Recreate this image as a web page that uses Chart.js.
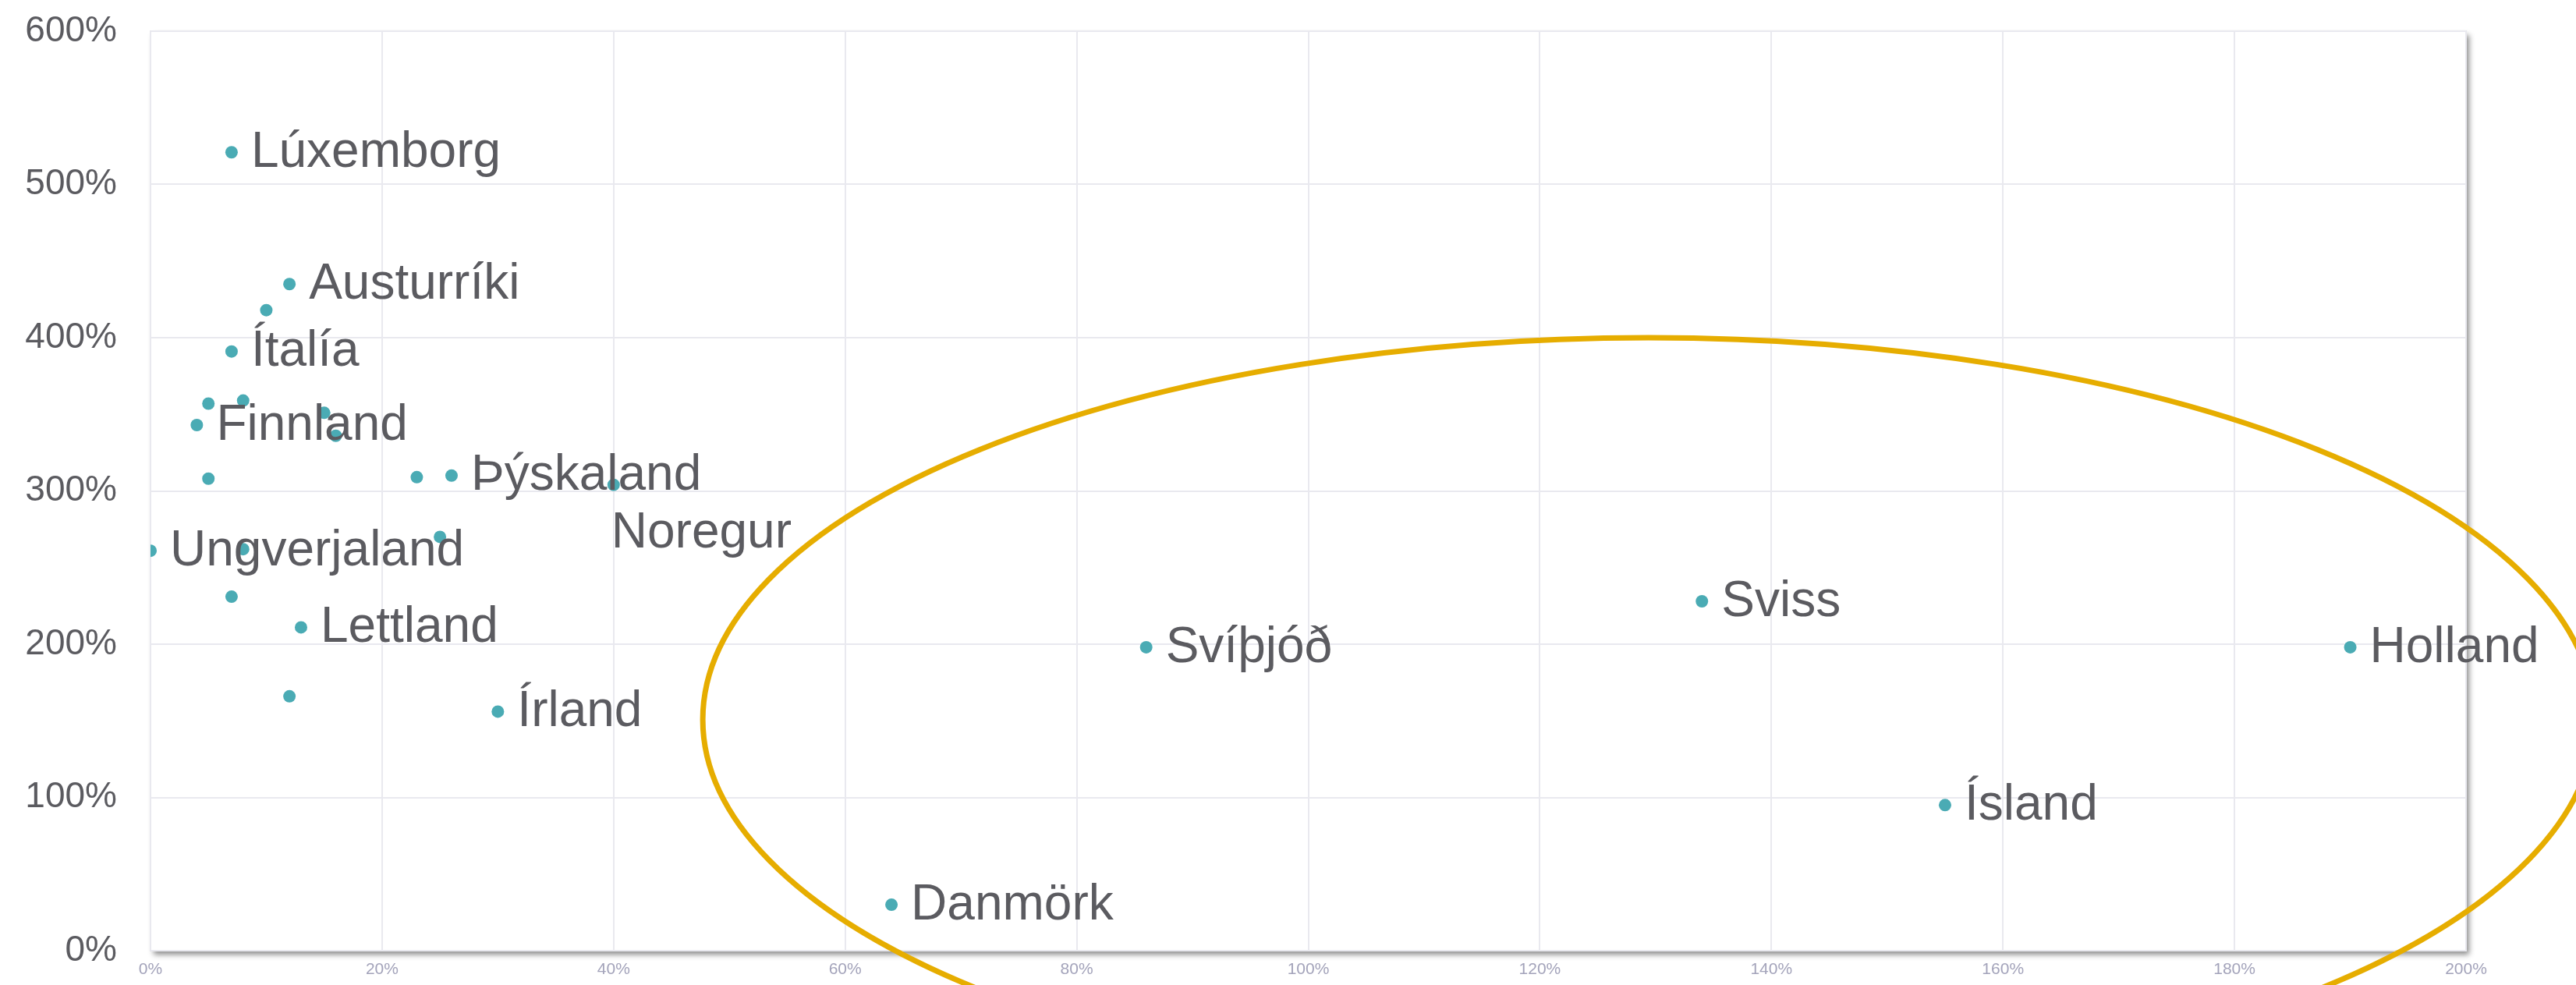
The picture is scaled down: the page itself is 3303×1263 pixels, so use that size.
<!DOCTYPE html>
<html>
<head>
<meta charset="utf-8">
<script src="https://cdn.jsdelivr.net/npm/chart.js@4/dist/chart.umd.min.js"></script>
<style>
  html, body { margin: 0; padding: 0; background: #fff; }
  #wrap { width: 3303px; height: 1263px; position: relative; }
</style>
</head>
<body>
<div id="wrap"><canvas id="chart"></canvas></div>
<script>
// country names (empty = no label)
const names = [
  'Lúxemborg', 'Austurríki', '', 'Ítalía', '', '', 'Finnland', '', '', '',
  '', 'Þýskaland', 'Noregur', '', 'Ungverjaland', '', '', 'Lettland', '', 'Írland',
  'Svíþjóð', 'Sviss', 'Holland', 'Ísland', 'Danmörk'
];
// x values (%)
const xValues = [
  7, 12, 10, 7, 5, 8, 4, 15, 16, 5,
  23, 26, 40, 25, 0, 8, 7, 13, 12, 30,
  86, 134, 190, 155, 64
];
// y values (%)
const yValues = [
  521, 435, 418, 391, 357, 359, 343, 351, 336, 308,
  309, 310, 304, 270, 261, 262, 231, 211, 166, 156,
  198, 228, 198, 95, 30
];
const belowLabels = ['Noregur'];

// highlighted group (ellipse) in data units
const ringCenter = [129.4, 150.8];
const ringRadius = [81.7, 249.2];

const FONT = "'Liberation Sans', Arial, sans-serif";

const framePlugin = {
  id: 'frame',
  beforeDraw(chart) {
    const { ctx, chartArea: a } = chart;
    ctx.save();
    ctx.shadowColor = 'rgba(0,0,0,0.45)';
    ctx.shadowBlur = 7;
    ctx.shadowOffsetX = 4;
    ctx.shadowOffsetY = 5;
    ctx.fillStyle = '#ffffff';
    ctx.fillRect(a.left, a.top, a.right - a.left, a.bottom - a.top);
    ctx.restore();
    ctx.save();
    ctx.strokeStyle = '#e4e4ea';
    ctx.lineWidth = 2;
    ctx.strokeRect(a.left, a.top, a.right - a.left, a.bottom - a.top);
    ctx.restore();
  }
};

const labelPlugin = {
  id: 'pointLabels',
  afterDatasetsDraw(chart) {
    const { ctx } = chart;
    const meta = chart.getDatasetMeta(0);
    ctx.save();
    ctx.font = '64px ' + FONT;
    ctx.fillStyle = '#5b5b60';
    ctx.textBaseline = 'middle';
    ctx.textAlign = 'left';
    meta.data.forEach((pt, i) => {
      const txt = names[i];
      if (!txt) return;
      if (belowLabels.includes(txt)) {
        ctx.fillText(txt, pt.x - 3, pt.y + 63);
      } else {
        ctx.fillText(txt, pt.x + 25, pt.y + 1);
      }
    });
    ctx.restore();
  },
  afterDraw(chart) {
    const { ctx, scales: { x, y } } = chart;
    const cx = x.getPixelForValue(ringCenter[0]);
    const cy = y.getPixelForValue(ringCenter[1]);
    const rx = x.getPixelForValue(ringCenter[0] + ringRadius[0]) - cx;
    const ry = cy - y.getPixelForValue(ringCenter[1] + ringRadius[1]);
    ctx.save();
    ctx.strokeStyle = '#e6ad00';
    ctx.lineWidth = 7;
    ctx.beginPath();
    ctx.ellipse(cx, cy, rx, ry, 0, 0, Math.PI * 2);
    ctx.stroke();
    ctx.restore();
  }
};

new Chart(document.getElementById('chart'), {
  type: 'scatter',
  data: {
    datasets: [{
      data: xValues.map((v, i) => ({ x: v, y: yValues[i] })),
      backgroundColor: '#4aabb4',
      borderWidth: 0,
      pointRadius: 8
    }]
  },
  options: {
    responsive: true,
    maintainAspectRatio: false,
    animation: false,
    devicePixelRatio: 1,
    layout: { padding: { top: 40, right: 141, bottom: 0, left: 0 } },
    plugins: {
      legend: { display: false },
      tooltip: { enabled: false }
    },
    scales: {
      x: {
        type: 'linear',
        min: 0,
        max: 200,
        afterFit(scale) { scale.height = 44; },
        border: { display: false },
        grid: { color: '#e9e9ef', lineWidth: 2, drawTicks: true, tickLength: 12, tickColor: 'rgba(0,0,0,0)' },
        ticks: {
          stepSize: 20,
          padding: 0,
          color: '#a3a3ba',
          font: { family: FONT, size: 21 },
          callback: v => v + '%'
        }
      },
      y: {
        min: 0,
        max: 600,
        afterFit(scale) { scale.width = 193; },
        border: { display: false },
        grid: { color: '#e9e9ef', lineWidth: 2, drawTicks: true, tickLength: 43, tickColor: 'rgba(0,0,0,0)' },
        ticks: {
          stepSize: 100,
          padding: 0,
          color: '#5b5b60',
          font: { family: FONT, size: 46 },
          callback: v => v + '%'
        }
      }
    }
  },
  plugins: [framePlugin, labelPlugin]
});
</script>
</body>
</html>
